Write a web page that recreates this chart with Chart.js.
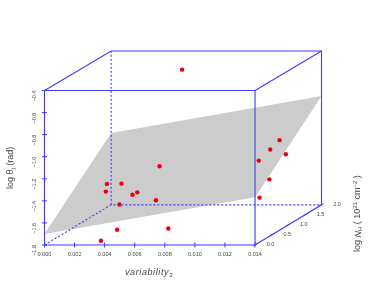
<!DOCTYPE html>
<html><head><meta charset="utf-8">
<script src="https://cdn.jsdelivr.net/npm/chart.js@4"></script>
<style>html,body{margin:0;padding:0;background:#fff}#w{position:relative;width:374px;height:307px}</style>
</head><body><div id="w"><canvas id="c" width="374" height="307"></canvas></div>
<script>
const pointsX=[0.00375,0.00483,0.00823,0.00499,0.00741,0.00617,0.00585,0.00408,0.00415,0.00512,0.00765,0.00915,0.01563,0.01501,0.01605,0.01425,0.01495,0.01430];
const pointsY=[-1.762,-1.662,-1.650,-1.432,-1.395,-1.323,-1.344,-1.316,-1.247,-1.244,-1.086,-0.211,-0.850,-0.935,-0.977,-1.035,-1.205,-1.371];
const planeX=[0,0.00443,0.01842,0.014,0];
const planeY=[-1.70,-0.785,-0.45,-1.368,-1.70];
const xTicks=[0,0.002,0.004,0.006,0.008,0.01,0.012,0.014];
const yTicks=[-1.8,-1.6,-1.4,-1.2,-1,-0.8,-0.6,-0.4];
const depthLabels=["0.0","0.5","1.0","1.5","2.0"];
const depthTickX=[0.014,0.01511,0.01621,0.01732,0.01842];
const depthTickY=[-1.8,-1.709,-1.618,-1.527,-1.436];
const frontX=[0,0.014,0.014,0,0];
const frontY=[-1.8,-1.8,-0.4,-0.4,-1.8];
const backX=[0,0.00443,0.01842,0.01842,0.014];
const backY=[-0.4,-0.042,-0.042,-1.436,-1.8];
const edgeX=[0.014,0.01842];
const edgeY=[-0.4,-0.042];
const hiddenX=[0,0.00443,0.01842];
const hiddenY=[-1.8,-1.436,-1.436];
const hidden2X=[0.00443,0.00443];
const hidden2Y=[-1.436,-0.042];
const BLUE='#3c3cff';
const zip=(a,b)=>a.map((v,i)=>({x:v,y:b[i]}));
const line=(a,b,extra)=>Object.assign({type:'scatter',showLine:true,data:zip(a,b),borderColor:BLUE,borderWidth:1.1,pointRadius:0,clip:false},extra||{});
const labels={id:'labels',afterDraw(ch){
 const {ctx,scales:{x,y}}=ch;ctx.save();ctx.fillStyle='#444';
 ctx.textAlign='center';ctx.textBaseline='middle';ctx.font='5.5px "Liberation Sans"';
 depthLabels.forEach((t,i)=>ctx.fillText(t,x.getPixelForValue(depthTickX[i])+15.5,y.getPixelForValue(depthTickY[i])-0.5));
 ctx.textAlign='left';
 ctx.font='italic 9px "Liberation Sans"';ctx.letterSpacing='0.6px';
 ctx.fillText('variability',125,272.5);
 const w=ctx.measureText('variability').width;
 ctx.font='italic 6px "Liberation Sans"';ctx.letterSpacing='0px';ctx.fillText('3',125+w,275);
 const vt=(px,py,runs)=>{ctx.save();ctx.translate(px,py);ctx.rotate(-Math.PI/2);let cx=0;runs.forEach(r=>{ctx.font=r[1];ctx.fillText(r[0],cx,r[2]||0);cx+=ctx.measureText(r[0]).width});ctx.restore()};
 const f='9px "Liberation Sans"',s='6px "Liberation Sans"';
 vt(10.5,189,[['log θ',f],['j',s,2.5],[' (rad)',f]]);
 vt(358,252,[['log ',f],['N',"italic 9px 'Liberation Sans'"],['H',s,2.5],[' ( 10',f],['21',s,-3],[' cm',f],['−2',s,-3],[' )',f]]);
 ctx.restore();
}};
new Chart(document.getElementById('c'),{type:'scatter',plugins:[labels],
 data:{datasets:[
  line(pointsX,pointsY,{order:0,showLine:false,pointRadius:2.2,pointBackgroundColor:'#e8000f',pointBorderWidth:0}),
  line(frontX,frontY,{order:1}),
  line(backX,backY,{order:1}),
  line(edgeX,edgeY,{order:1}),
  line(xTicks,xTicks.map(()=>-1.8),{order:1,pointStyle:'line',rotation:90,pointRadius:2.5,pointBorderColor:BLUE,pointBorderWidth:1,showLine:false}),
  line(yTicks.map(()=>0),yTicks,{order:1,pointStyle:'line',rotation:0,pointRadius:2.5,pointBorderColor:BLUE,pointBorderWidth:1,showLine:false}),
  line(depthTickX,depthTickY,{order:1,pointStyle:'line',rotation:-31,pointRadius:2.5,pointBorderColor:BLUE,pointBorderWidth:1,showLine:false}),
  line(hiddenX,hiddenY,{order:1,borderDash:[2,2]}),
  line(hidden2X,hidden2Y,{order:1,borderDash:[2,2]}),
  line(planeX,planeY,{order:2,borderWidth:0,borderColor:'transparent',fill:'shape',backgroundColor:'#cccccc'})
 ]},
 options:{responsive:false,animation:false,
  layout:{padding:{left:0,top:51,right:52.5,bottom:0}},
  plugins:{legend:{display:false},tooltip:{enabled:false}},
  scales:{
   x:{type:'linear',min:0,max:0.01842,border:{display:false},grid:{display:false,tickLength:0},
      afterTickToLabelConversion(s){s.ticks=xTicks.map(v=>({value:v,label:v.toFixed(3)}))},
      afterFit(s){s.height=62},
      ticks:{font:{size:5.5,family:'Liberation Sans'},color:'#444',padding:6,maxRotation:0,minRotation:0,autoSkip:false}},
   y:{type:'linear',min:-1.8,max:-0.042,border:{display:false},grid:{display:false,tickLength:0},
      afterTickToLabelConversion(s){s.ticks=yTicks.map(v=>({value:v,label:(v<0?'−':'')+Math.abs(v).toFixed(1)}))},
      afterFit(s){s.width=44.5},
      ticks:{font:{size:5.5,family:'Liberation Sans'},color:'#444',padding:10,minRotation:90,maxRotation:90,autoSkip:false}}
  }}});
</script></body></html>
